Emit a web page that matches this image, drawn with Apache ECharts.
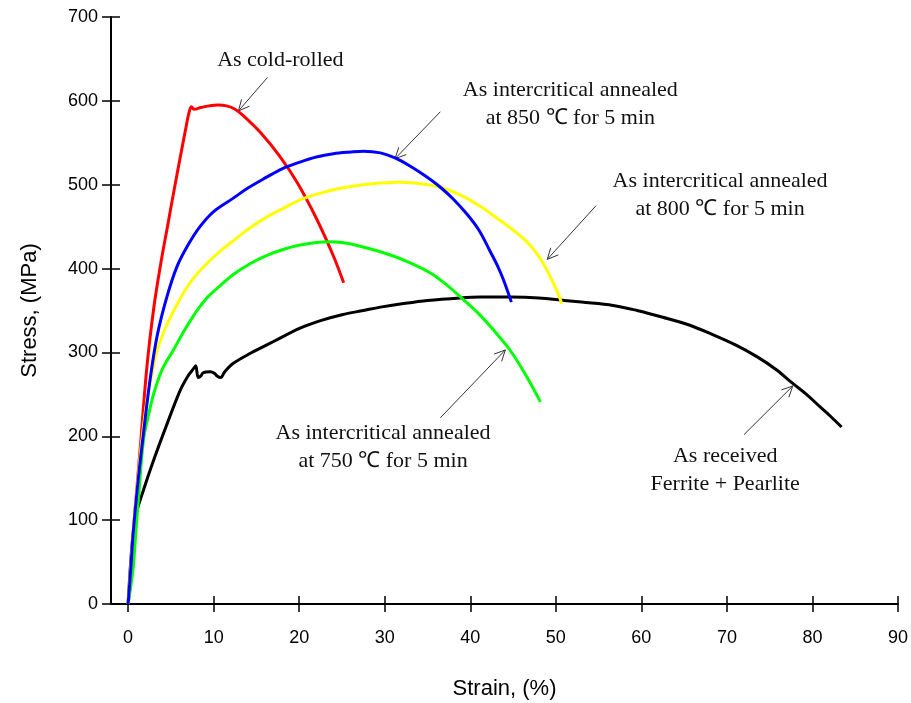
<!DOCTYPE html>
<html>
<head>
<meta charset="utf-8" />
<script type="text/javascript" src="https://cdn.jsdelivr.net/npm/echarts@6.0.0/dist/echarts.min.js"></script>
<title>Stress-strain</title>
<style>
  html, body { margin: 0; padding: 0; background: #fff; }
  #main { width: 911px; height: 703px; }
</style>
</head>
<body>
<div id="main"></div>
<script type="text/javascript">
// strain (%) / stress (MPa)
var xTicks = [0, 10, 20, 30, 40, 50, 60, 70, 80, 90];

var redX = [0, 0.3, 0.6, 1.0, 1.4, 2.2, 3.0, 3.8, 4.6, 5.4, 6.1, 6.7, 7.1, 7.4, 7.7, 8.5, 9.5, 10.5, 11.5, 12.5, 13.5, 15.5, 17.8, 19.8, 22, 24, 25.2];
var redY = [0, 30, 85, 135, 184, 283, 353, 405, 450, 495, 533, 565, 585, 593, 590, 592, 594, 595, 594, 590, 582, 562, 533, 502, 460, 415, 383];

var blueX = [0, 0.3, 0.6, 1.2, 1.8, 2.6, 3.4, 4.5, 5.7, 7, 8.4, 10, 12.3, 14, 16.2, 18, 20.1, 22, 24, 26, 27.5, 29.5, 31.2, 33, 34.8, 36.5, 38, 39.6, 41, 42.3, 43.2, 43.9, 44.8];
var blueY = [0, 40, 85, 150, 204, 270, 320, 365, 402, 428, 450, 468, 484, 496, 509, 519, 527, 533, 537, 539, 540, 538, 532, 522, 510, 497, 483, 465, 446, 421, 403, 386, 360];

var yellowX = [0, 0.3, 0.7, 1.1, 1.6, 2.2, 2.8, 3.4, 4.4, 5.5, 6.9, 8, 9.3, 10.8, 12.4, 14.3, 16.3, 18, 20.1, 22.5, 25, 27.5, 29.5, 31.5, 33.5, 36.5, 39, 41.2, 43, 45, 46.5, 47.7, 48.7, 49.5, 50.2, 50.7];
var yellowY = [0, 44, 100, 144, 195, 243, 275, 303, 330, 353, 378, 393, 407, 421, 434, 449, 462, 471, 482, 490, 496, 500, 502, 503, 502, 497, 487, 474, 461, 446, 433, 419, 403, 387, 372, 358];

var greenX = [0, 0.3, 0.6, 0.9, 1.2, 1.8, 2.4, 3.0, 4.0, 5.3, 6.5, 7.6, 8.5, 9.3, 10.8, 12.3, 14.3, 16.3, 18.2, 20.1, 22, 23.5, 25, 27, 29.5, 32.5, 35.3, 37.3, 39.2, 41, 42.7, 44.7, 46.6, 48.2];
var greenY = [0, 20, 44, 85, 124, 196, 226, 251, 280, 303, 325, 343, 356, 366, 380, 393, 406, 416, 423, 428, 431, 432, 431, 427, 420, 409, 395, 380, 363, 346, 327, 302, 271, 241];

var blackX = [0, 0.3, 0.6, 1.0, 1.8, 3.0, 4.6, 6.1, 7.0, 7.6, 7.9, 8.2, 8.5, 8.8, 9.6, 10.1, 10.4, 10.8, 11.3, 12.3, 14.3, 17, 20.1, 22.5, 25, 27.5, 29.5, 32, 35, 38.8, 41.2, 44.7, 48, 51, 53, 56.7, 59.5, 62.5, 65.5, 68.4, 71, 73.5, 75.7, 77.7, 79.3, 80.9, 82.2, 83.4];
var blackY = [0, 50, 85, 110, 136, 172, 216, 255, 272, 280, 284, 270, 272, 276, 277, 275, 272, 270, 277, 287, 299, 313, 329, 338, 345, 350, 354, 358, 362, 365, 366, 366, 365, 362, 360, 356, 350, 342, 333, 321, 309, 295, 280, 263, 250, 235, 223, 211];

// labels: text lines, text centre, arrow start, arrow tip (data coords)
var notes = [
  { lines: ['As cold-rolled'], at: [17.8, 649], from: [16.3, 628], to: [12.9, 588] },
  { lines: ['As intercritical annealed', 'at 850 \u2103 for 5 min'], at: [51.7, 596], from: [36.5, 587], to: [31.2, 531] },
  { lines: ['As intercritical annealed', 'at 800 \u2103 for 5 min'], at: [69.2, 487], from: [54.7, 475], to: [49.0, 411] },
  { lines: ['As intercritical annealed', 'at 750 \u2103 for 5 min'], at: [29.8, 187], from: [36.5, 222], to: [44.1, 303] },
  { lines: ['As received', 'Ferrite + Pearlite'], at: [69.8, 159], from: [72.0, 202], to: [77.7, 260] }
];

function pairs(xs, ys) {
  var out = [];
  for (var i = 0; i < xs.length; i++) out.push([xs[i], ys[i]]);
  return out;
}

function curve(name, xs, ys, color) {
  return {
    name: name, type: 'line', xAxisIndex: 0, yAxisIndex: 0,
    data: pairs(xs, ys), showSymbol: false, symbol: 'none',
    smooth: 0.35,
    lineStyle: { color: color, width: 3 },
    animation: false
  };
}

var myChart = echarts.init(document.getElementById('main'));
var axisFont = { fontFamily: '"Liberation Sans", Arial, sans-serif', fontSize: 18, color: '#000' };
var tickLine = { color: '#000', width: 1.5 };

var option = {
  animation: false,
  grid: { left: 111, right: 13, top: 17, bottom: 99, outerBoundsMode: 'none' },
  xAxis: [
    {
      type: 'value', min: -2, max: 90, position: 'bottom',
      name: 'Strain, (%)', nameLocation: 'middle', nameGap: 74,
      nameTextStyle: { fontFamily: '"Liberation Sans", Arial, sans-serif', fontSize: 22, color: '#000' },
      axisLine: { onZero: false, lineStyle: { color: '#000', width: 2 } },
      axisTick: { inside: false, length: 8, customValues: xTicks, lineStyle: tickLine },
      axisLabel: Object.assign({ margin: 25, customValues: xTicks }, axisFont),
      splitLine: { show: false }
    },
    {
      type: 'value', min: -2, max: 90, position: 'bottom',
      axisLine: { show: false, onZero: false },
      axisTick: { inside: true, length: 8, customValues: xTicks, lineStyle: tickLine },
      axisLabel: { show: false },
      splitLine: { show: false }
    }
  ],
  yAxis: [
    {
      type: 'value', min: 0, max: 700, interval: 100, position: 'left',
      name: 'Stress, (MPa)', nameLocation: 'middle', nameGap: 70,
      nameTextStyle: { fontFamily: '"Liberation Sans", Arial, sans-serif', fontSize: 22, color: '#000' },
      axisLine: { show: true, onZero: false, lineStyle: { color: '#000', width: 2 } },
      axisTick: { show: true, inside: false, length: 9, lineStyle: tickLine },
      axisLabel: Object.assign({ margin: 13 }, axisFont),
      splitLine: { show: false }
    },
    {
      type: 'value', min: 0, max: 700, interval: 100, position: 'left',
      axisLine: { show: false, onZero: false },
      axisTick: { show: true, inside: true, length: 9, lineStyle: tickLine },
      axisLabel: { show: false },
      splitLine: { show: false }
    }
  ],
  series: [
    curve('As received', blackX, blackY, '#000000'),
    curve('As cold-rolled', redX, redY, '#ff0000'),
    curve('750', greenX, greenY, '#00ff00'),
    curve('800', yellowX, yellowY, '#ffff00'),
    curve('850', blueX, blueY, '#0000ff')
  ]
};
myChart.setOption(option);

// annotations placed through the axes
var g = [];
notes.forEach(function (n) {
  var c = myChart.convertToPixel({ gridIndex: 0 }, n.at);
  var lh = 28;
  var y0 = c[1] - (n.lines.length - 1) * lh / 2;
  n.lines.forEach(function (t, i) {
    g.push({
      type: 'text', silent: true,
      style: {
        text: t, x: c[0], y: y0 + i * lh,
        textAlign: 'center', textVerticalAlign: 'middle',
        align: 'center', verticalAlign: 'middle',
        font: '22px "Liberation Serif", "Times New Roman", serif',
        fill: '#111'
      }
    });
  });
  var a = myChart.convertToPixel({ gridIndex: 0 }, n.from);
  var b = myChart.convertToPixel({ gridIndex: 0 }, n.to);
  g.push({ type: 'line', silent: true, shape: { x1: a[0], y1: a[1], x2: b[0], y2: b[1] }, style: { stroke: '#333', lineWidth: 1 } });
  var ang = Math.atan2(b[1] - a[1], b[0] - a[0]);
  var len = 12, spread = 0.45;
  var p1 = [b[0] - len * Math.cos(ang - spread), b[1] - len * Math.sin(ang - spread)];
  var p2 = [b[0] - len * Math.cos(ang + spread), b[1] - len * Math.sin(ang + spread)];
  g.push({ type: 'polyline', silent: true, shape: { points: [p1, b, p2] }, style: { stroke: '#333', lineWidth: 1, fill: null } });
});
myChart.setOption({ graphic: g });
</script>
</body>
</html>
